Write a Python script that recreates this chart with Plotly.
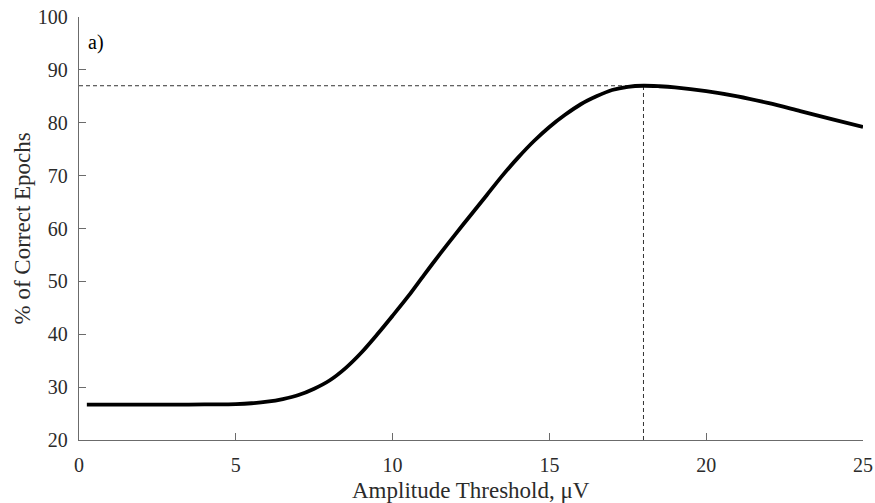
import plotly.graph_objects as go
import numpy as np

# Data
threshold_uv = [0.25, 1, 2, 3, 4, 5, 5.5, 6, 6.5, 7, 7.5, 8, 8.5, 9, 9.5, 10, 10.5, 11, 11.5,
                12, 12.5, 13, 13.5, 14, 14.5, 15, 15.5, 16, 16.5, 17, 17.5, 18, 18.5,
                19, 20, 21, 22, 23, 24, 25]
pct_correct = [26.7, 26.7, 26.7, 26.7, 26.72, 26.8, 26.95, 27.25, 27.75, 28.5, 29.7, 31.3, 33.6,
               36.5, 39.9, 43.5, 47.2, 51.2, 55.1, 58.9, 62.6, 66.3, 70.0, 73.4, 76.5,
               79.2, 81.5, 83.5, 85.0, 86.2, 86.8, 87.0, 86.9, 86.7, 86.0, 85.0, 83.7,
               82.2, 80.7, 79.2]
x_ticks = [0, 5, 10, 15, 20, 25]
y_ticks = [20, 30, 40, 50, 60, 70, 80, 90, 100]

i_peak = int(np.argmax(pct_correct))
peak_x = threshold_uv[i_peak]
peak_y = pct_correct[i_peak]

FONT = "Liberation Serif"
AXC = "#6b6b6b"
TXT = "#2b2b2b"

fig = go.Figure()
fig.add_trace(go.Scatter(x=[0, peak_x], y=[peak_y, peak_y], mode="lines",
                         line=dict(color="#333333", width=1, dash="4px,3px"),
                         hoverinfo="skip", showlegend=False))
fig.add_trace(go.Scatter(x=[peak_x, peak_x], y=[20, peak_y], mode="lines",
                         line=dict(color="#333333", width=1, dash="4px,3px"),
                         hoverinfo="skip", showlegend=False))
fig.add_trace(go.Scatter(x=threshold_uv, y=pct_correct, mode="lines",
                         line=dict(color="black", width=3.8, shape="spline", smoothing=0.8),
                         showlegend=False))

fig.add_annotation(x=0.22, y=95.2, text="a)", showarrow=False, xanchor="left",
                   yanchor="middle", font=dict(family=FONT, size=20, color="black"))

# axis titles as paper annotations
fig.add_annotation(xref="paper", yref="paper", x=0.5, y=0, yshift=-50,
                   text="Amplitude Threshold, μV", showarrow=False,
                   xanchor="center", yanchor="middle",
                   font=dict(family=FONT, size=23, color=TXT))
fig.add_annotation(xref="paper", yref="paper", x=0, y=0.5, xshift=-57,
                   text="% of Correct Epochs", showarrow=False, textangle=-90,
                   xanchor="center", yanchor="middle",
                   font=dict(family=FONT, size=23, color=TXT))

fig.update_layout(
    width=875, height=503,
    margin=dict(l=79, r=12, t=17, b=63),
    paper_bgcolor="white", plot_bgcolor="white",
    font=dict(family=FONT, size=20, color=TXT),
)
fig.update_xaxes(range=[0, 25], tickvals=x_ticks, showgrid=False, zeroline=False,
                 showline=True, linecolor=AXC, linewidth=1.3, ticks="inside",
                 ticklen=7, tickcolor=AXC, tickwidth=1.3, ticklabelstandoff=7,
                 automargin=False, ticklabeloverflow="allow",
                 tickfont=dict(size=20, color=TXT))
fig.update_yaxes(range=[20, 100], tickvals=y_ticks, showgrid=False, zeroline=False,
                 showline=True, linecolor=AXC, linewidth=1.3, ticks="inside",
                 ticklen=7, tickcolor=AXC, tickwidth=1.3, ticklabelstandoff=6,
                 automargin=False, ticklabeloverflow="allow",
                 tickfont=dict(size=20, color=TXT))

fig.write_html("out.html", config={"displayModeBar": False},
               post_script="document.body.style.margin='0';document.body.style.overflow='hidden';")
